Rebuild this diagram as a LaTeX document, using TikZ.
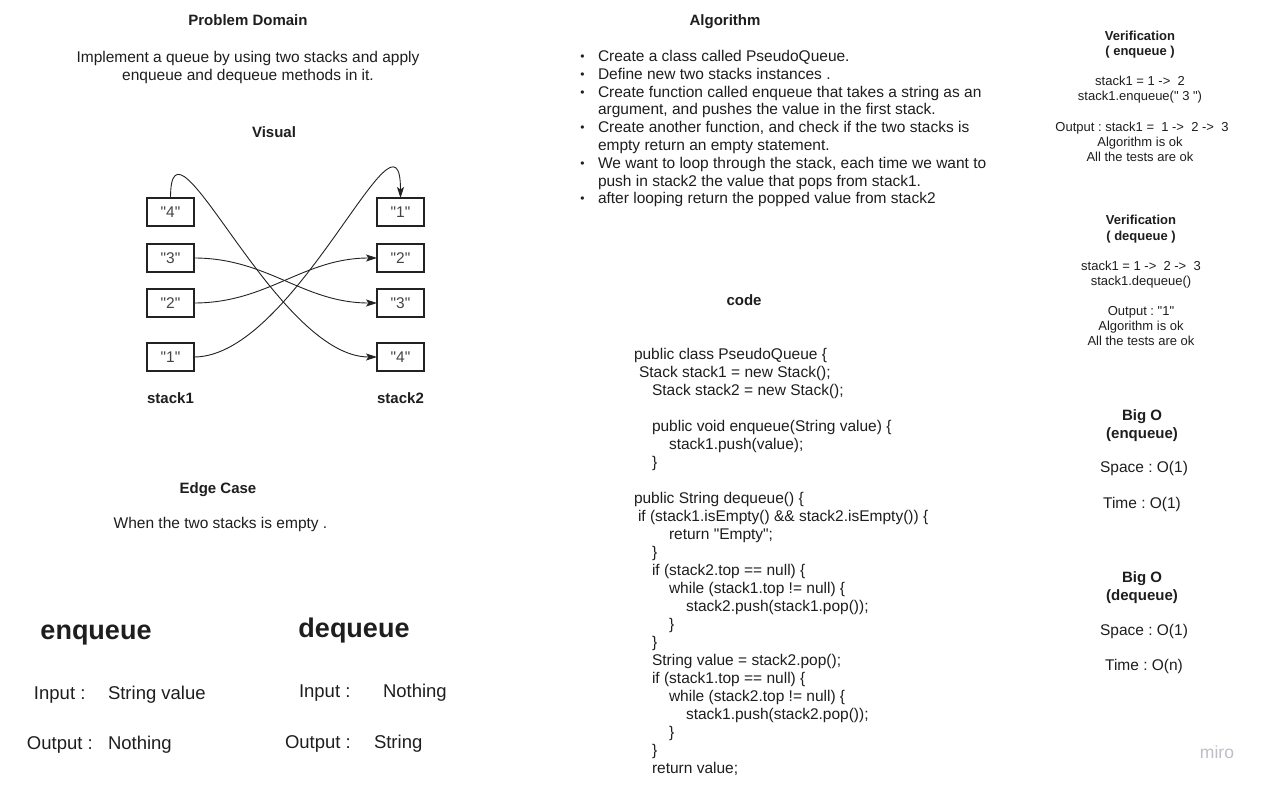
\documentclass[tikz,border=0pt]{standalone}
\usepackage{fontspec}
\setmainfont{Liberation Sans}[Ligatures=TeXOff]
\usetikzlibrary{arrows.meta}
\definecolor{txtcol}{HTML}{1E1E1E}
\definecolor{boxtxt}{HTML}{444444}
\definecolor{linecol}{HTML}{222222}
\definecolor{mirocol}{HTML}{BEBEC6}
\newcommand\fsz[2]{\fontsize{#1}{#2}\selectfont}
\frenchspacing
\begin{document}
\begin{tikzpicture}[x=1pt,y=-1pt,
  every node/.style={inner sep=0pt,outer sep=0pt,text=txtcol},
  ttl/.style={font=\fsz{15}{18}\bfseries,anchor=base},
  body/.style={font=\fsz{15.5}{18},anchor=base},
  bodyw/.style={font=\fsz{15.5}{18},anchor=base west},
  bul/.style={font=\fsz{12}{14},anchor=base},
  vt/.style={font=\fsz{13}{15}\bfseries,anchor=base},
  vb/.style={font=\fsz{13}{15},anchor=base},
  big/.style={font=\fsz{27}{30}\bfseries,anchor=base},
  io/.style={font=\fsz{18.5}{22},anchor=base west},
  stk/.style={draw=linecol,line width=1.2pt,minimum width=47pt,minimum height=28pt,font=\fsz{15.5}{18},text=boxtxt},
  arr/.style={draw=linecol,line width=0.9pt,-{Stealth[length=11pt,width=7pt,inset=2.5pt]}}
]
\fill[white] (0,0) rectangle (1267,789);
\useasboundingbox (0,0) rectangle (1267,789);

% ---------- Problem domain ----------
\node[ttl] (pd) at (248,25.5) {Problem Domain};
\node[body] (impl1) at (248,62.5) {Implement a queue by using two stacks and apply};
\node[body] (impl2) at (248,80.5) {enqueue and dequeue methods in it.};

% ---------- Visual ----------
\node[ttl] (vis) at (274,137.5) {Visual};
\node[stk] (a4) at (170.5,212) {"4"};
\node[stk] (a3) at (170.5,258) {"3"};
\node[stk] (a2) at (170.5,303) {"2"};
\node[stk] (a1) at (170.5,357) {"1"};
\node[stk] (b1) at (400.5,212) {"1"};
\node[stk] (b2) at (400.5,258) {"2"};
\node[stk] (b3) at (400.5,303) {"3"};
\node[stk] (b4) at (400.5,357) {"4"};
\node[ttl] (s1l) at (170.5,403) {stack1};
\node[ttl] (s2l) at (400.5,403) {stack2};

\draw[arr] (a4.north) .. controls (170.5,96) and (275,357) .. (b4.west);
\draw[arr] (a3.east) .. controls (268,258) and (303,303) .. (b3.west);
\draw[arr] (a2.east) .. controls (268,303) and (303,258) .. (b2.west);
\draw[arr] (a1.east) .. controls (296,357) and (400.5,88) .. (b1.north);

% ---------- Edge case ----------
\node[ttl] (ec) at (218,493.5) {Edge Case};
\node[body] (ect) at (220.5,528.5) {When the two stacks is empty .};

% ---------- enqueue / dequeue ----------
\node[big] (enq) at (96,639) {enqueue};
\node[big] (deq) at (354,637.3) {dequeue};
\node[io] (ein) at (34,699) {Input :};
\node[io] (einv) at (108,699) {String value};
\node[io] (eout) at (27,749) {Output :};
\node[io] (eoutv) at (108,749) {Nothing};
\node[io] (din) at (299,697.3) {Input :};
\node[io] (dinv) at (383,697.3) {Nothing};
\node[io] (dout) at (285,748.3) {Output :};
\node[io] (doutv) at (374,748.3) {String};

% ---------- Algorithm ----------
\node[ttl] (alg) at (725,25.5) {Algorithm};
\foreach \k/\b/\t [count=\i] in {
  0/1/{Create a class called PseudoQueue.},
  1/1/{Define new two stacks instances .},
  2/1/{Create function called enqueue that takes a string as an},
  3/0/{argument, and pushes the value in the first stack.},
  4/1/{Create another function, and check if the two stacks is},
  5/0/{empty return an empty statement.},
  6/1/{We want to loop through the stack, each time we want to},
  7/0/{push in stack2 the value that pops from stack1.},
  8/1/{after looping return the popped value from stack2}}{
  \node[bodyw] (al\i) at (598,{61.5+17.8*\k}) {\t};
  \ifnum\b=1 \node[bul] (bu\i) at (582.5,{60.5+17.8*\k}) {•};\fi
}

% ---------- Code ----------
\node[ttl] (codet) at (744,305.5) {code};
\foreach \k/\x/\t [count=\i] in {
  0/634/{public class PseudoQueue \{},
  1/639/{Stack stack1 = new Stack();},
  2/652/{Stack stack2 = new Stack();},
  4/652/{public void enqueue(String value) \{},
  5/669/{stack1.push(value);},
  6/652/{\}},
  8/634/{public String dequeue() \{},
  9/638/{if (stack1.isEmpty() \&\& stack2.isEmpty()) \{},
  10/669/{return "Empty";},
  11/652/{\}},
  12/652/{if (stack2.top == null) \{},
  13/669/{while (stack1.top != null) \{},
  14/686/{stack2.push(stack1.pop());},
  15/669/{\}},
  16/652/{\}},
  17/652/{String value = stack2.pop();},
  18/652/{if (stack1.top == null) \{},
  19/669/{while (stack2.top != null) \{},
  20/686/{stack1.push(stack2.pop());},
  21/669/{\}},
  22/652/{\}},
  23/652/{return value;}}{
  \node[bodyw] (cl\i) at (\x,{359.5+18*\k}) {\t};
}

% ---------- Verification ----------
\node[vt] (ve1) at (1140,40.7) {Verification};
\node[vt] (ve2) at (1140,55.7) {( enqueue )};
\node[vb] (ve3) at (1140,85.7) {stack1 = 1 ->\ \ 2};
\node[vb] (ve4) at (1140,100.7) {stack1.enqueue(" 3 ")};
\node[vb] (ve5) at (1142,131.7) {Output : stack1 =\ \ 1 ->\ \ 2 ->\ \ 3};
\node[vb] (ve6) at (1140,146.7) {Algorithm is ok};
\node[vb] (ve7) at (1140,161.7) {All the tests are ok};

\node[vt] (vd1) at (1141,224.7) {Verification};
\node[vt] (vd2) at (1141,240.7) {( dequeue )};
\node[vb] (vd3) at (1141,270.7) {stack1 = 1 ->\ \ 2 ->\ \ 3};
\node[vb] (vd4) at (1141,285.7) {stack1.dequeue()};
\node[vb] (vd5) at (1141,315.7) {Output : "1"};
\node[vb] (vd6) at (1141,330.7) {Algorithm is ok};
\node[vb] (vd7) at (1141,345.7) {All the tests are ok};

% ---------- Big O ----------
\node[ttl] (bo1) at (1142,420.3) {Big O};
\node[ttl] (bo2) at (1142,438.3) {(enqueue)};
\node[body] (bo3) at (1144,472.5) {Space : O(1)};
\node[body] (bo4) at (1142,508.5) {Time : O(1)};
\node[ttl] (bd1) at (1142,582.3) {Big O};
\node[ttl] (bd2) at (1142,600.3) {(dequeue)};
\node[body] (bd3) at (1144,635.5) {Space : O(1)};
\node[body] (bd4) at (1144,670.5) {Time : O(n)};

% ---------- watermark ----------
\node[font=\fsz{17.5}{20},anchor=base,text=mirocol] (miro) at (1217,758.5) {miro};
\end{tikzpicture}
\end{document}
